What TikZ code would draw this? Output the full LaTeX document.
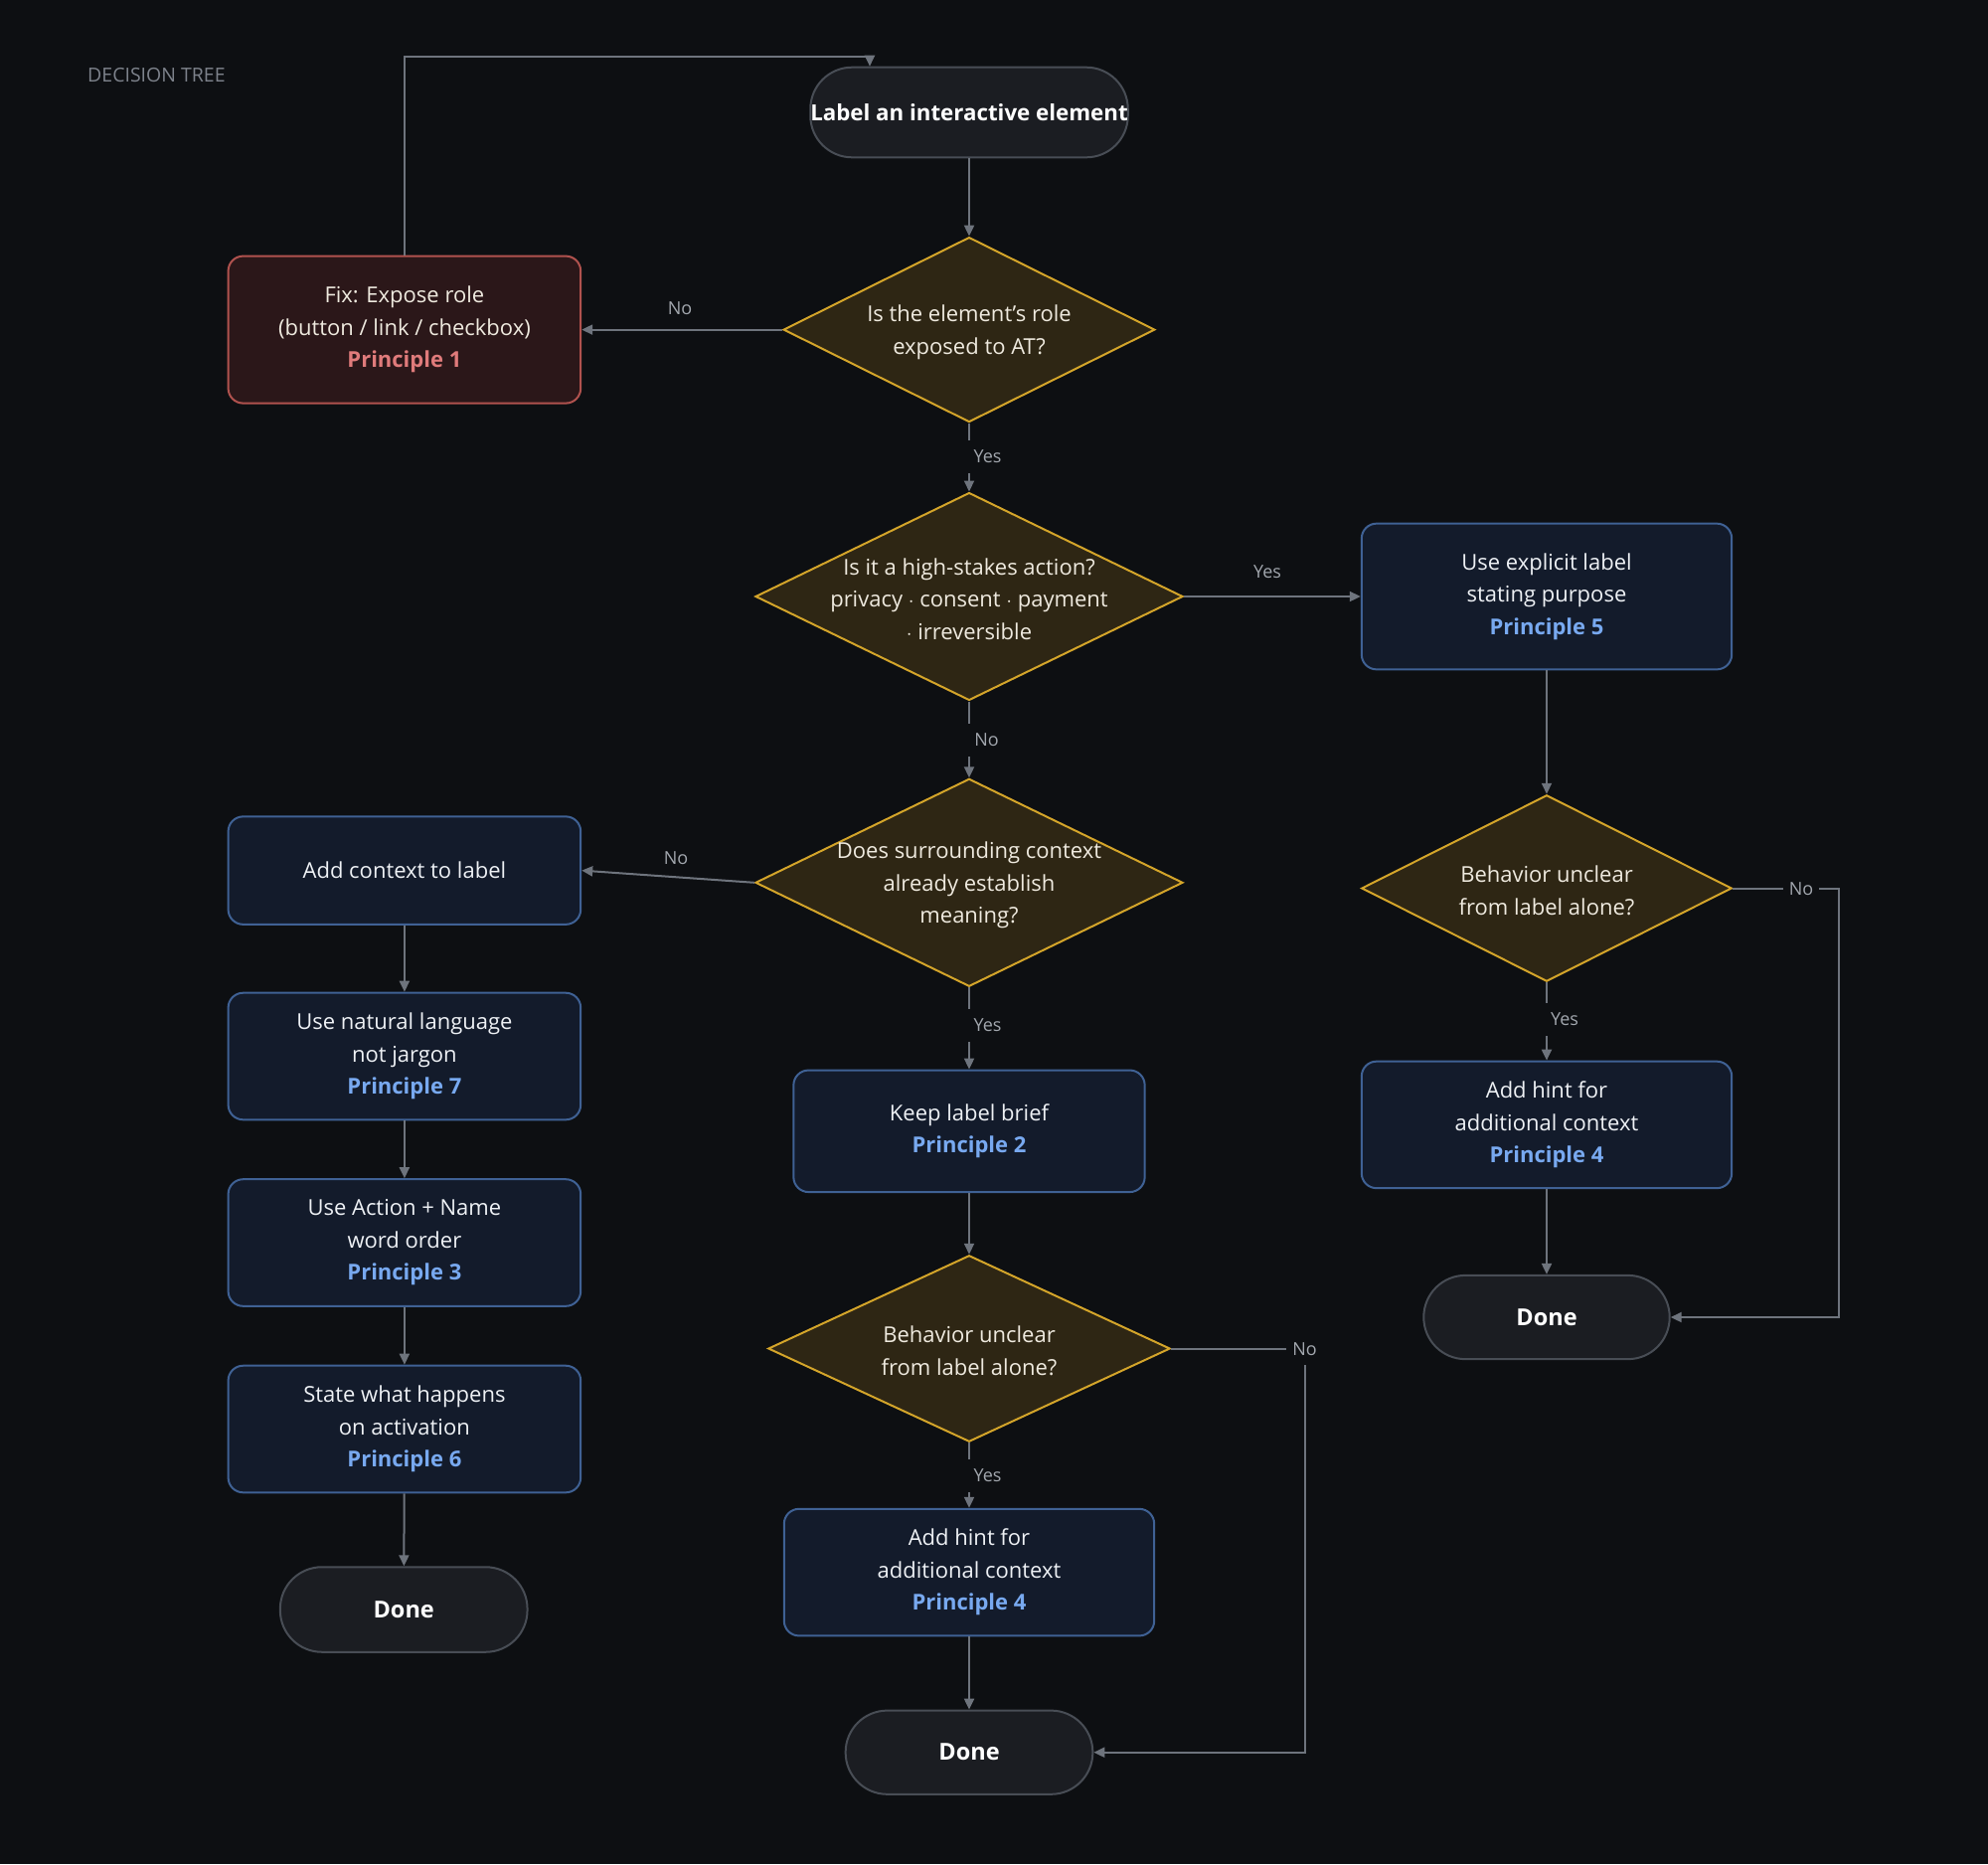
\documentclass[tikz,border=0pt]{standalone}
\usepackage{fontspec}
\setmainfont{Open Sans}
\usetikzlibrary{shapes.geometric,arrows.meta,calc}
\definecolor{bg}{HTML}{0D0F12}
\definecolor{pillfill}{HTML}{1B1D22}
\definecolor{pilldraw}{HTML}{484D55}
\definecolor{dfill}{HTML}{2E2614}
\definecolor{ddraw}{HTML}{D4A52A}
\definecolor{bfill}{HTML}{131B2B}
\definecolor{bdraw}{HTML}{3F6194}
\definecolor{rfill}{HTML}{2B1719}
\definecolor{rdraw}{HTML}{B0524E}
\definecolor{ptblue}{HTML}{78A9F0}
\definecolor{ptred}{HTML}{E07B7B}
\definecolor{txtw}{HTML}{EFEADF}
\definecolor{txtb}{HTML}{EEF1F5}
\definecolor{edgec}{HTML}{6E747D}
\definecolor{elabel}{HTML}{A2A7AE}
\definecolor{titlec}{HTML}{7D828B}
\newcommand\bodyfont{\fontsize{22}{32.5}\selectfont}
\newcommand\pb[1]{{\bfseries\color{ptblue}#1}}
\newcommand\pr[1]{{\bfseries\color{ptred}#1}}
\tikzset{
  pill/.style={rectangle, rounded corners=42pt, draw=pilldraw, fill=pillfill, line width=2pt,
    inner sep=0pt, text=white, font=\fontsize{23.5}{28}\selectfont\bfseries},
  bluebox/.style={rectangle, rounded corners=15pt, draw=bdraw, fill=bfill, line width=2pt,
    inner sep=0pt, align=center, text=txtb, font=\bodyfont},
  redbox/.style={rectangle, rounded corners=15pt, draw=rdraw, fill=rfill, line width=2pt,
    inner sep=0pt, align=center, text=txtw, font=\bodyfont},
  dia/.style={diamond, draw=ddraw, fill=dfill, line width=2pt, inner sep=0pt},
  diatext/.style={align=center, text=txtw, font=\bodyfont, inner sep=0pt, yshift=-2.5pt},
  arr/.style={draw=edgec, line width=2pt, -{Triangle[length=11pt,width=10pt]}},
  elab/.style={font=\fontsize{18}{20}\selectfont, text=elabel, text height=13pt, text depth=0pt, inner xsep=6pt, inner ysep=10pt},
  elabg/.style={elab, fill=bg},
}
\begin{document}
\begin{tikzpicture}[x=1pt,y=-1pt]
\fill[bg] (0,0) rectangle (2000,1875);
\useasboundingbox (0,0) rectangle (2000,1875);

\node[anchor=west, text=titlec, font=\fontsize{19.5}{21}\selectfont, inner sep=0pt, text height=14pt, text depth=0pt] (title) at (88,75) {DECISION TREE};

% nodes
\node[pill, minimum width=311pt, minimum height=90.6pt, font=\fontsize{22.3}{28}\selectfont\bfseries] (start) at (975,113) {Label an interactive element};

\node[dia, minimum width=373.7pt, minimum height=186pt] (d1) at (975,331.6) {};
\node[diatext] (d1t) at (d1) {Is the element's role\\exposed to AT?};

\node[redbox, minimum width=354.6pt, minimum height=148pt] (fix) at (406.9,331.6)
  {Fix: Expose role\\(button / link / checkbox)\\\pr{Principle 1}};

\node[dia, minimum width=430pt, minimum height=209pt] (d2) at (975,600) {};
\node[diatext] (d2t) at (d2) {Is it a high-stakes action?\\privacy $\cdot$ consent $\cdot$ payment\\$\cdot$ irreversible};

\node[bluebox, minimum width=372.4pt, minimum height=146.7pt] (p5) at (1556,600)
  {Use explicit label\\stating purpose\\\pb{Principle 5}};

\node[dia, minimum width=430pt, minimum height=209pt] (d3) at (975,887.8) {};
\node[diatext] (d3t) at (d3) {Does surrounding context\\already establish\\meaning?};

\node[bluebox, minimum width=354.6pt, minimum height=108.5pt] (ctx) at (406.9,875.6) {Add context to label};
\node[bluebox, minimum width=354.6pt, minimum height=127.6pt] (nat) at (406.9,1062.5)
  {Use natural language\\not jargon\\\pb{Principle 7}};
\node[bluebox, minimum width=354.6pt, minimum height=127.6pt] (act) at (406.9,1250)
  {Use Action + Name\\word order\\\pb{Principle 3}};
\node[bluebox, minimum width=354.6pt, minimum height=127.6pt] (state) at (406.9,1437.5)
  {State what happens\\on activation\\\pb{Principle 6}};
\node[pill, minimum width=248.7pt, minimum height=85.5pt] (doneL) at (406.2,1619) {Done};

\node[dia, minimum width=372.4pt, minimum height=187.5pt] (rd) at (1556,893.5) {};
\node[diatext] (rdt) at (rd) {Behavior unclear\\from label alone?};
\node[bluebox, minimum width=372.4pt, minimum height=127.5pt] (hintR) at (1556,1131.4)
  {Add hint for\\additional context\\\pb{Principle 4}};
\node[pill, minimum width=247.4pt, minimum height=84.3pt] (doneR) at (1556,1325) {Done};

\node[bluebox, minimum width=353.3pt, minimum height=122.5pt] (keep) at (975,1137.8)
  {Keep label brief\\\pb{Principle 2}};
\node[dia, minimum width=404.3pt, minimum height=187.5pt] (d4) at (975,1356.5) {};
\node[diatext] (d4t) at (d4) {Behavior unclear\\from label alone?};
\node[bluebox, minimum width=372.4pt, minimum height=127.6pt] (hintM) at (975,1581.6)
  {Add hint for\\additional context\\\pb{Principle 4}};
\node[pill, minimum width=248.7pt, minimum height=84.2pt] (doneB) at (975,1762.7) {Done};

% connectors
\coordinate (loop) at (875,57.4);
\coordinate (rno) at (1849.5,893.5);
\coordinate (d4no) at (1312.5,1356.5);

\draw[arr] (start) -- (d1);
\draw[arr] (fix.north) |- (loop) -- (loop |- start.north);
\draw[arr] (d1.west) -- (fix.east);
\draw[arr] (d1.south) -- (d2.north);
\draw[arr] (d2.east) -- (p5.west);
\draw[arr] (d2.south) -- (d3.north);
\draw[arr] (d3.west) -- (ctx.east);
\draw[arr] (d3.south) -- (keep.north);
\draw[arr] (ctx) -- (nat);
\draw[arr] (nat) -- (act);
\draw[arr] (act) -- (state);
\draw[arr] (state) -- (doneL);
\draw[arr] (p5.south) -- (rd.north);
\draw[arr] (rd.east) -- (rno) |- (doneR.east);
\draw[arr] (rd.south) -- (hintR.north);
\draw[arr] (hintR.south) -- (doneR.north);
\draw[arr] (keep.south) -- (d4.north);
\draw[arr] (d4.east) -- (d4no) |- (doneB.east);
\draw[arr] (d4.south) -- (hintM.north);
\draw[arr] (hintM.south) -- (doneB.north);

% edge labels
\node[elab] (l1) at (684,310) {No};
\node[elabg] (l2) at (993.6,459) {Yes};
\node[elab] (l3) at (1275,575) {Yes};
\node[elabg] (l4) at (992.5,744) {No};
\node[elab] (l5) at (680,862.5) {No};
\node[elabg] (l6) at (993.6,1031) {Yes};
\node[elabg] (l7) at (1812,893.5) {No};
\node[elabg] (l8) at (1574,1025) {Yes};
\node[elabg] (l9) at (1312.5,1356.5) {No};
\node[elabg] (l10) at (993.6,1484) {Yes};
\end{tikzpicture}
\end{document}
